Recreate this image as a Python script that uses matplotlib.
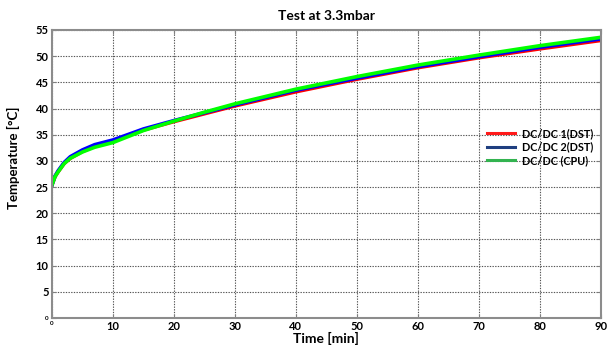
import matplotlib
matplotlib.use("Agg")
import matplotlib.pyplot as plt
from matplotlib.lines import Line2D

plt.rcParams['font.family'] = ['Lato', 'DejaVu Sans']

# time samples [min] and the three temperature traces [°C]
time_min = [0, 0.5, 1, 2, 3, 5, 7, 10, 15, 20, 25, 30, 40, 50, 60, 70, 80, 90]
dcdc1_dst = [25.4, 27.0, 27.9, 29.5, 30.5, 31.8, 32.8, 33.8, 35.9, 37.5, 39.0, 40.5, 43.2, 45.6, 47.8, 49.7, 51.4, 53.0]
dcdc2_dst = [25.4, 27.1, 28.1, 29.7, 30.8, 32.1, 33.1, 34.0, 36.1, 37.7, 39.2, 40.7, 43.5, 45.8, 48.0, 49.9, 51.7, 53.3]
dcdc_cpu = [25.4, 27.0, 27.9, 29.5, 30.5, 31.7, 32.6, 33.5, 35.8, 37.6, 39.3, 40.9, 43.7, 46.1, 48.3, 50.2, 52.0, 53.6]

legend_labels = ['DC/DC 1(DST)', 'DC/DC 2(DST)', 'DC/DC (CPU)']
x_ticks = [0, 10, 20, 30, 40, 50, 60, 70, 80, 90]
y_ticks = [0, 5, 10, 15, 20, 25, 30, 35, 40, 45, 50, 55]

fig = plt.figure(figsize=(6.1, 3.47), dpi=100)
ax = fig.add_axes([0.0852, 0.0836, 0.8998, 0.83])

ax.plot(time_min, dcdc1_dst, color='#ff0000', lw=2.6)
ax.plot(time_min, dcdc2_dst, color='#0000ff', lw=2.6)
ax.plot(time_min, dcdc_cpu, color='#00ff00', lw=2.6)

ax.set_xlim(0, 90)
ax.set_ylim(0, 55)
ax.set_xticks(x_ticks)
ax.set_yticks(y_ticks)
ax.set_xticklabels([str(v) for v in x_ticks], fontweight='bold', fontsize=8)
ax.set_yticklabels([str(v) for v in y_ticks], fontweight='bold', fontsize=8)
# the origin labels are much smaller than the rest
ax.get_xticklabels()[0].set_fontsize(4.5)
ax.get_yticklabels()[0].set_fontsize(4.5)

ax.grid(True, linestyle=(0, (1.2, 1.2)), color='#555555', lw=0.8)
ax.tick_params(direction='in', length=3, color='#808080', pad=2.5,
               top=True, right=True)
for sp in ax.spines.values():
    sp.set_color('#8c8c8c')
    sp.set_linewidth(1.5)

ax.set_title('Test at 3.3mbar', fontsize=10, fontweight='bold', pad=7)
ax.set_xlabel('Time [min]', fontsize=10, fontweight='bold', labelpad=0)
ax.set_ylabel('Temperature [°C]', fontsize=9.5, fontweight='bold')
ax.yaxis.set_label_coords(-0.058, 0.555)

handles = [Line2D([], [], color='#ff1a1a', lw=2.2),
           Line2D([], [], color='#1f3f80', lw=2.2),
           Line2D([], [], color='#33b350', lw=2.2)]
ax.legend(handles, legend_labels, loc='center left', bbox_to_anchor=(0.792, 0.594),
          frameon=False, prop={'weight': 'bold', 'size': 7.8},
          handlelength=2.6, labelspacing=0.25, handletextpad=0.7,
          borderaxespad=0, borderpad=0)

fig.savefig('out.png', dpi=100)
